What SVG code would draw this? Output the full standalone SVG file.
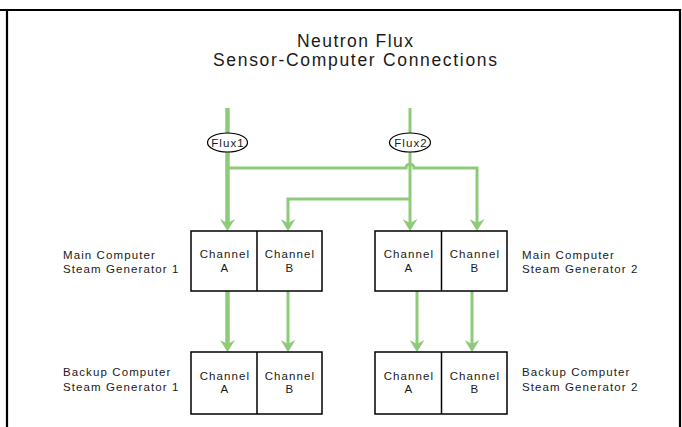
<svg xmlns="http://www.w3.org/2000/svg" width="682" height="427" viewBox="0 0 682 427">
<style>
.t{font-family:"Liberation Sans",Arial,sans-serif;fill:#1a1a1a}
.title{font-size:17.5px;text-anchor:middle}
.s{font-size:11.5px;letter-spacing:1.1px}
.c{text-anchor:middle}
.box{fill:#fff;stroke:#000;stroke-width:1.5}
.w{fill:none;stroke:#8dcb7b;stroke-linejoin:miter}
.thick{stroke-width:4.5}
.thin{stroke-width:3}
.frame{fill:none;stroke:#000;stroke-width:2.2}
</style>
<defs>
<marker id="ah" viewBox="0 0 12 15" refX="4" refY="7.5" markerWidth="12" markerHeight="15" markerUnits="userSpaceOnUse" orient="auto">
<path d="M0,0 L12,7.5 L0,15 L4,7.5 Z" fill="#8dcb7b"/>
</marker>
</defs>
<rect width="682" height="427" fill="#fff"/>
<path class="frame" d="M0,10 H680 V427 M7,10 V427"/>
<g id="title">
<text class="t title" x="355" y="47" textLength="116" lengthAdjust="spacing">Neutron Flux</text>
<text class="t title" x="355" y="66" textLength="284" lengthAdjust="spacing">Sensor-Computer Connections</text>
</g>
<g id="connectors">
<path class="w thick" d="M227.5,108 V223" marker-end="url(#ah)"/>
<path class="w thin" d="M410,108 V223" stroke-width="4" marker-end="url(#ah)"/>
<path class="w thin" d="M227.5,168 H406 A4,4 0 0 1 414,168 H477 V223" marker-end="url(#ah)"/>
<path class="w thin" d="M410,199 H288 V223" marker-end="url(#ah)"/>
<path class="w thick" d="M227.5,291 V344" marker-end="url(#ah)"/>
<path class="w thin" d="M288,291 V344" marker-end="url(#ah)"/>
<path class="w thin" d="M417,291 V344" marker-end="url(#ah)"/>
<path class="w thin" d="M472,291 V344" marker-end="url(#ah)"/>
</g>
<g id="flux1">
<ellipse cx="227.5" cy="142.5" rx="20" ry="9.5" fill="#fff" stroke="#000" stroke-width="1.2"/>
<text class="t s c" x="228" y="146.5">Flux1</text>
</g>
<g id="flux2">
<ellipse cx="410" cy="142.5" rx="20.5" ry="9.5" fill="#fff" stroke="#000" stroke-width="1.2"/>
<text class="t s c" x="411" y="146.5">Flux2</text>
</g>
<g id="main1">
<rect class="box" x="191" y="231" width="131" height="60"/>
<line x1="257" y1="231" x2="257" y2="291" stroke="#000" stroke-width="1.5"/>
<text class="t s c" x="225" y="258">Channel</text>
<text class="t s c" x="225" y="272">A</text>
<text class="t s c" x="290" y="258">Channel</text>
<text class="t s c" x="290" y="272">B</text>
<text class="t s" x="63" y="259">Main Computer</text>
<text class="t s" x="63" y="273">Steam Generator 1</text>
</g>
<g id="main2">
<rect class="box" x="375" y="231" width="132" height="60"/>
<line x1="441.5" y1="231" x2="441.5" y2="291" stroke="#000" stroke-width="1.5"/>
<text class="t s c" x="409" y="258">Channel</text>
<text class="t s c" x="409" y="272">A</text>
<text class="t s c" x="475" y="258">Channel</text>
<text class="t s c" x="475" y="272">B</text>
<text class="t s" x="522" y="259">Main Computer</text>
<text class="t s" x="522" y="273">Steam Generator 2</text>
</g>
<g id="backup1">
<rect class="box" x="191" y="352" width="131" height="62"/>
<line x1="257" y1="352" x2="257" y2="414" stroke="#000" stroke-width="1.5"/>
<text class="t s c" x="225" y="380">Channel</text>
<text class="t s c" x="225" y="393">A</text>
<text class="t s c" x="290" y="380">Channel</text>
<text class="t s c" x="290" y="393">B</text>
<text class="t s" x="63" y="376">Backup Computer</text>
<text class="t s" x="63" y="391">Steam Generator 1</text>
</g>
<g id="backup2">
<rect class="box" x="375" y="352" width="132" height="62"/>
<line x1="441.5" y1="352" x2="441.5" y2="414" stroke="#000" stroke-width="1.5"/>
<text class="t s c" x="409" y="380">Channel</text>
<text class="t s c" x="409" y="393">A</text>
<text class="t s c" x="475" y="380">Channel</text>
<text class="t s c" x="475" y="393">B</text>
<text class="t s" x="522" y="376">Backup Computer</text>
<text class="t s" x="522" y="391">Steam Generator 2</text>
</g>
</svg>
